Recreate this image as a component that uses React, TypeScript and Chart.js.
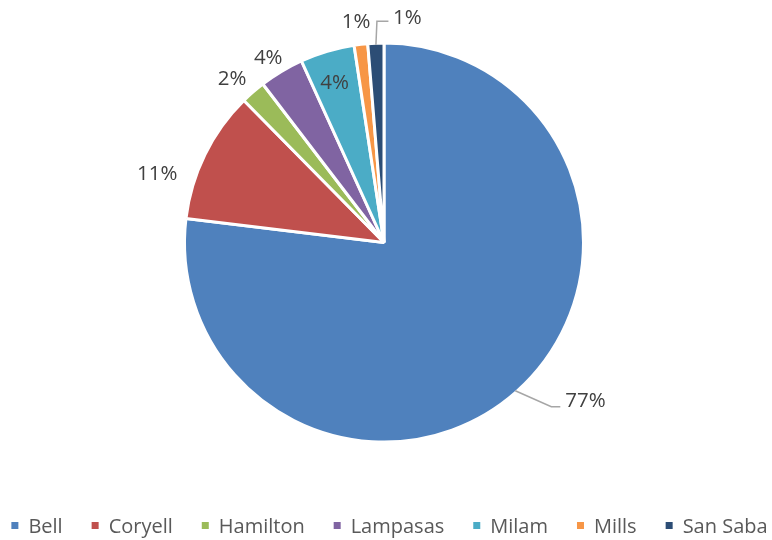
import React, { useEffect, useRef } from "react";
import { Chart, registerables } from "chart.js";

Chart.register(...registerables);

const categories = ["Bell", "Coryell", "Hamilton", "Lampasas", "Milam", "Mills", "San Saba"];
const shares = [77.0, 10.7, 2.0, 3.6, 4.4, 1.1, 1.3];
const sliceColors = ["#4F81BD", "#C0504D", "#9BBB59", "#8064A2", "#4BACC6", "#F79646", "#2C4D75"];

const FONT = '"Open Sans", "DejaVu Sans", sans-serif';
const LABEL_FONT_SIZE = 20.5;
const LEGEND_FONT_SIZE = 20;
const LABEL_COLOR = "#404040";
const LEGEND_COLOR = "#595959";
const LEADER_COLOR = "#A6A6A6";

// Label placement (style): offsets from the outer edge point at each slice's mid-angle
type LabelStyle = { dx: number; dy: number; align: CanvasTextAlign; leader?: number[][] };
const labelStyles: LabelStyle[] = [
  { dx: 50, dy: 16.5, align: "left", leader: [[36, 16], [45, 16]] },
  { dx: -49, dy: 25, align: "center" },
  { dx: -22, dy: -8, align: "center" },
  { dx: -14, dy: -8.2, align: "center" },
  { dx: 7, dy: 36.5, align: "center" },
  { dx: -5, dy: -17.8, align: "center" },
  { dx: 17, dy: -20.7, align: "left", leader: [[1, -23.5], [12.5, -23.5]] },
];

const pieLabelsPlugin = {
  id: "pieLabels",
  afterDatasetsDraw(chart: any) {
    const ctx = chart.ctx as CanvasRenderingContext2D;
    const meta = chart.getDatasetMeta(0);
    const data = chart.data.datasets[0].data as number[];
    const total = data.reduce((a, b) => a + b, 0);
    ctx.save();
    ctx.font = `${LABEL_FONT_SIZE}px ${FONT}`;
    ctx.textBaseline = "alphabetic";
    meta.data.forEach((arc: any, i: number) => {
      const { x, y, startAngle, endAngle, outerRadius } = arc.getProps(
        ["x", "y", "startAngle", "endAngle", "outerRadius"],
        true
      );
      const mid = (startAngle + endAngle) / 2;
      const r = outerRadius - 1.5;
      const ex = x + Math.cos(mid) * r;
      const ey = y + Math.sin(mid) * r;
      const st = labelStyles[i];
      if (st.leader) {
        ctx.strokeStyle = LEADER_COLOR;
        ctx.lineWidth = 1.5;
        ctx.beginPath();
        ctx.moveTo(ex, ey);
        st.leader.forEach((p) => ctx.lineTo(ex + p[0], ey + p[1]));
        ctx.stroke();
      }
      ctx.fillStyle = LABEL_COLOR;
      ctx.textAlign = st.align;
      const txt = Math.round((data[i] / total) * 100) + "%";
      ctx.fillText(txt, ex + st.dx, ey + st.dy);
    });
    ctx.restore();
  },
};

const legendPlugin = {
  id: "customLegend",
  afterDraw(chart: any) {
    const ctx = chart.ctx as CanvasRenderingContext2D;
    const labels = chart.data.labels as string[];
    const colors = chart.data.datasets[0].backgroundColor as string[];
    ctx.save();
    ctx.font = `${LEGEND_FONT_SIZE}px ${FONT}`;
    ctx.textBaseline = "alphabetic";
    ctx.textAlign = "left";
    const box = 7;
    const boxGap = 10;
    const itemGap = 29;
    const widths = labels.map((l) => ctx.measureText(l).width);
    const total =
      widths.reduce((a, w) => a + box + boxGap + w, 0) + itemGap * (labels.length - 1);
    let x = 389.5 - total / 2;
    const baseY = 533;
    labels.forEach((l, i) => {
      ctx.fillStyle = colors[i];
      ctx.fillRect(x, baseY - 11, box, box);
      ctx.fillStyle = LEGEND_COLOR;
      ctx.fillText(l, x + box + boxGap, baseY);
      x += box + boxGap + widths[i] + itemGap;
    });
    ctx.restore();
  },
};

export default function App() {
  const ref = useRef<HTMLCanvasElement | null>(null);
  useEffect(() => {
    if (!ref.current) return;
    const chart = new Chart(ref.current, {
      type: "pie",
      data: {
        labels: categories,
        datasets: [
          {
            data: shares,
            backgroundColor: sliceColors,
            borderColor: "#FFFFFF",
            borderWidth: 3,
            hoverOffset: 0,
          },
        ],
      },
      options: {
        responsive: false,
        animation: false,
        radius: 199.5,
        layout: { padding: { top: 44, bottom: 99, left: 0, right: 4 } },
        plugins: {
          legend: { display: false },
          tooltip: { enabled: false },
        },
      } as any,
      plugins: [pieLabelsPlugin, legendPlugin],
    });
    return () => chart.destroy();
  }, []);
  return (
    <div style={{ position: "absolute", left: 0, top: 0, width: 772, height: 540, background: "#fff" }}>
      <canvas ref={ref} width={772} height={540} style={{ width: 772, height: 540 }} />
    </div>
  );
}
